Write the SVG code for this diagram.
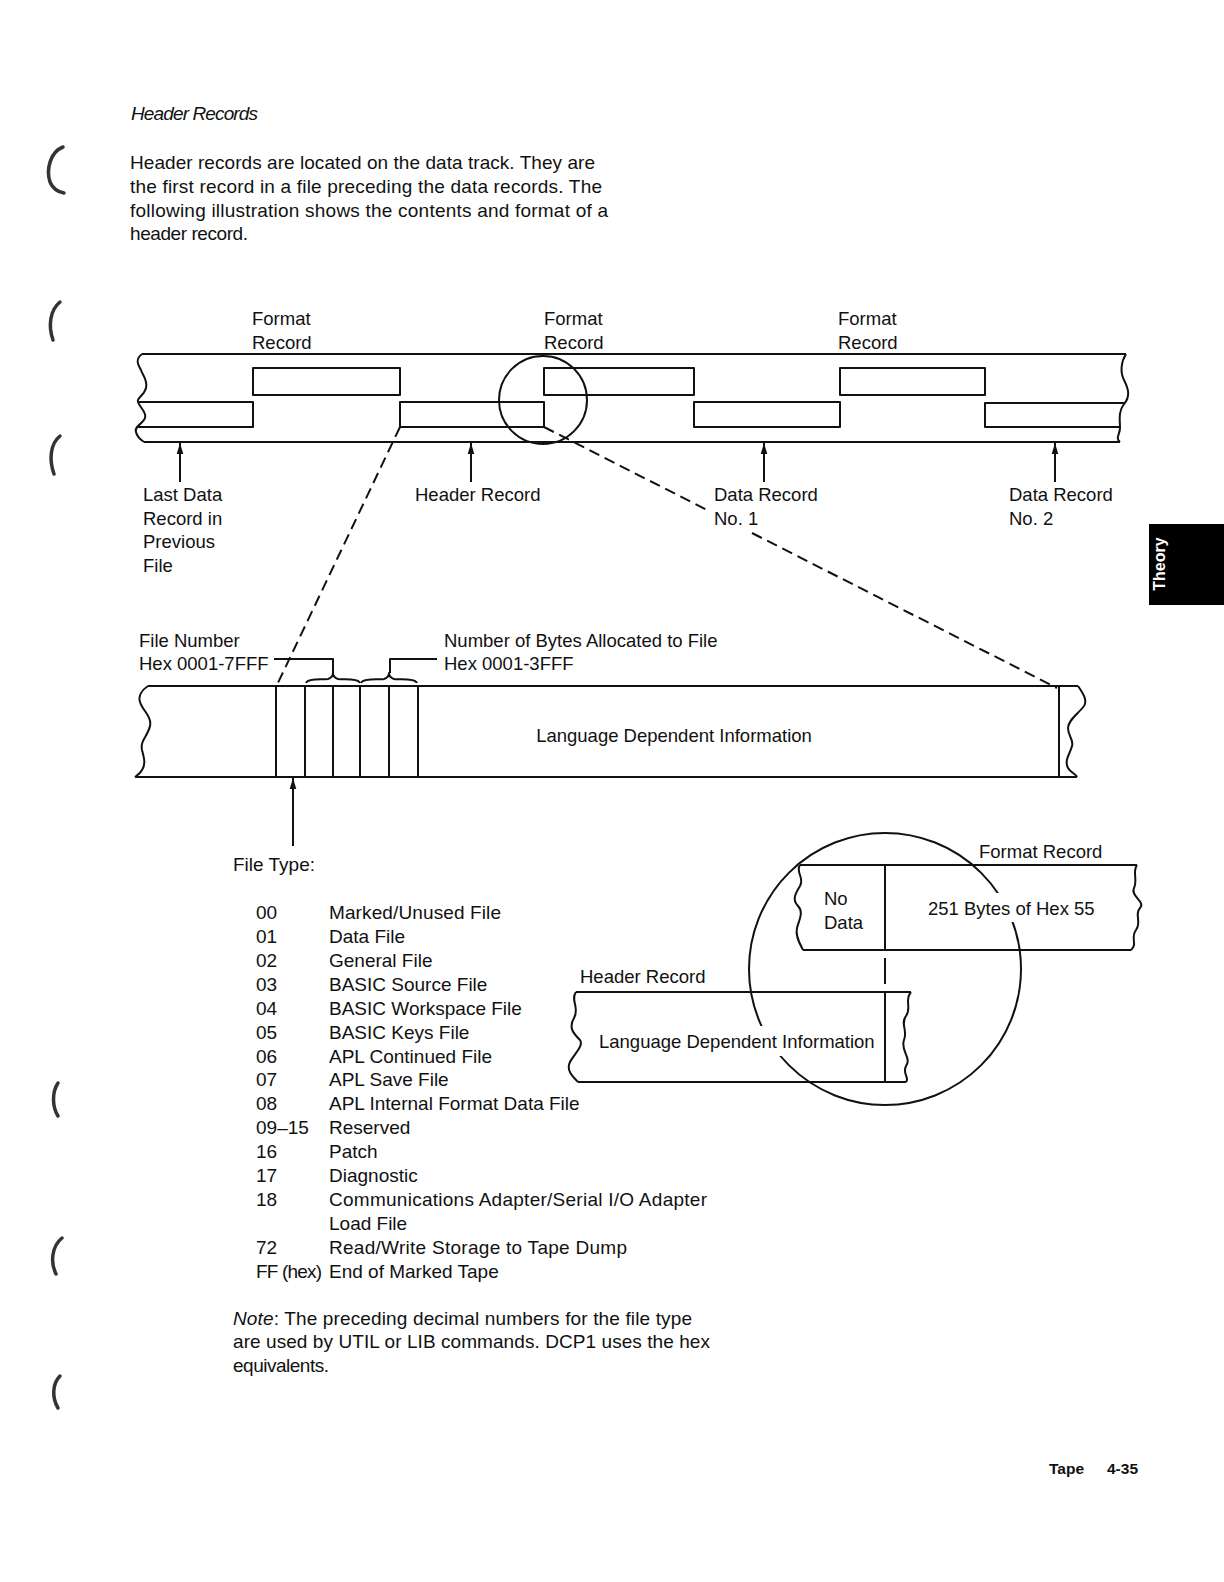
<svg xmlns="http://www.w3.org/2000/svg" width="1224" height="1582" viewBox="0 0 1224 1582">
<defs>
<marker id="ah" viewBox="0 0 10 10" refX="10" refY="5" markerWidth="11" markerHeight="11" markerUnits="userSpaceOnUse" orient="auto"><path d="M0,2 L10,5 L0,8 z" fill="#111"/></marker>
<style>
text { font-family: "Liberation Sans", Arial, Helvetica, sans-serif; fill: #111; }
.body { font-size: 19px; }
.lbl { font-size: 18.5px; }
.ln { fill: none; stroke: #111; stroke-width: 2; stroke-linejoin: round; }
.dash { fill: none; stroke: #111; stroke-width: 2; stroke-dasharray: 11 6; }
.arr { fill: none; stroke: #111; stroke-width: 2; marker-end: url(#ah); }
.halo { stroke: #fff; stroke-width: 6; paint-order: stroke; stroke-linejoin: round; }
.mask { fill: #fff; stroke: none; }
.scan { fill: none; stroke: #333; stroke-width: 3.5; stroke-linecap: round; }
</style>
</defs>
<rect x="0" y="0" width="1224" height="1582" fill="#fff"/>

<g id="scan-marks">
<path class="scan" d="M63,147 C50,152 46,170 50,182 C53,189 58,192 64,193"/>
<path class="scan" d="M60,302 C50,310 48,326 53,340"/>
<path class="scan" d="M60,436 C50,444 49,460 54,474"/>
<path class="scan" d="M58,1083 C52,1092 52,1106 58,1116"/>
<path class="scan" d="M62,1238 C52,1246 50,1262 56,1274"/>
<path class="scan" d="M60,1376 C52,1384 52,1398 58,1408"/>
</g>

<g id="intro-text">
<text class="body" x="131" y="120" font-style="italic" textLength="127" lengthAdjust="spacing">Header Records</text>
<text class="body" x="130" y="169" textLength="465" lengthAdjust="spacing">Header records are located on the data track.  They are</text>
<text class="body" x="130" y="193" textLength="472" lengthAdjust="spacing">the first record in a file preceding the data records.  The</text>
<text class="body" x="130" y="217" textLength="478" lengthAdjust="spacing">following illustration shows the contents and format of a</text>
<text class="body" x="130" y="240" textLength="118" lengthAdjust="spacing">header record.</text>
</g>

<g id="tape-track">
<path class="ln" d="M142,354 H1126"/>
<path class="ln" d="M144,442 H1120"/>
<path class="ln" d="M142,354 C134,360 139,366 141,370 C143,376 148,380 146,388 C144,396 136,398 138,402 C140,408 147,412 145,418 C143,424 134,426 136,432 C137,437 141,440 144,442"/>
<path class="ln" d="M1126,354 C1121,362 1120,372 1124,380 C1128,388 1131,396 1124,404 C1118,412 1120,420 1120,428 C1120,434 1115,438 1120,442"/>
<path class="ln" d="M139,402 H253 V427 H137"/>
<rect class="ln" x="253" y="368" width="147" height="27"/>
<rect class="ln" x="400" y="402" width="144" height="25"/>
<rect class="ln" x="544" y="368" width="150" height="27"/>
<rect class="ln" x="694" y="402" width="146" height="25"/>
<rect class="ln" x="840" y="368" width="145" height="27"/>
<path class="ln" d="M1125,403 H985 V427 H1120"/>
<circle class="ln" cx="543" cy="400" r="44"/>
</g>

<g id="label-format-1">
<text class="lbl" x="252" y="325">Format</text>
<text class="lbl" x="252" y="349">Record</text>
</g>
<g id="label-format-2">
<text class="lbl" x="544" y="325">Format</text>
<text class="lbl" x="544" y="349">Record</text>
</g>
<g id="label-format-3">
<text class="lbl" x="838" y="325">Format</text>
<text class="lbl" x="838" y="349">Record</text>
</g>
<g id="label-last-data">
<text class="lbl" x="143" y="501">Last Data</text>
<text class="lbl" x="143" y="525">Record in</text>
<text class="lbl" x="143" y="548">Previous</text>
<text class="lbl" x="143" y="572">File</text>
</g>
<g id="label-header">
<text class="lbl" x="415" y="501">Header Record</text>
</g>
<g id="label-data-1">
<text class="lbl" x="714" y="501">Data Record</text>
<text class="lbl" x="714" y="525">No. 1</text>
</g>
<g id="label-data-2">
<text class="lbl" x="1009" y="501">Data Record</text>
<text class="lbl" x="1009" y="525">No. 2</text>
</g>

<g id="header-record-layout">
<path class="ln" d="M148,686 H1078"/>
<path class="ln" d="M135,777 H1077"/>
<path class="ln" d="M148,686 C142,690 138,696 140,702 C142,710 152,716 150,726 C148,736 140,740 142,750 C144,758 146,764 142,770 C140,774 136,776 135,777"/>
<path class="ln" d="M1078,686 C1082,692 1088,700 1084,706 C1078,714 1068,720 1068,728 C1068,736 1074,740 1072,746 C1070,754 1064,760 1068,768 C1070,772 1076,774 1077,777"/>
<path class="ln" d="M276,686 V777 M305,686 V777 M333,686 V777 M360,686 V777 M389,686 V777 M418,686 V777 M1059,686 V777"/>
<text class="lbl" x="674" y="742" text-anchor="middle">Language Dependent Information</text>
</g>

<g id="field-labels">
<text class="lbl" x="139" y="647">File Number</text>
<text class="lbl" x="139" y="670">Hex 0001-7FFF</text>
<path class="ln" d="M274,659 H333 V673"/>
<path class="ln" d="M306,683 C308,678 322,680 328,679 C331,678 333,676 333,673 C333,676 335,678 338,679 C344,680 358,678 360,683"/>
<path class="ln" d="M361,683 C363,678 378,680 384,679 C387,678 389,676 389,673 C389,676 391,678 394,679 C400,680 415,678 417,683"/>
<path class="ln" d="M390,673 V659 H437"/>
<text class="lbl" x="444" y="647">Number of Bytes Allocated to File</text>
<text class="lbl" x="444" y="670">Hex 0001-3FFF</text>
</g>

<g id="connectors">
<path class="dash" d="M400,427 L276,687"/>
<path class="dash" d="M544,427 L709,511"/>
<path class="dash" d="M752,533 L1057,688"/>
<line class="arr" x1="180" y1="482" x2="180" y2="443"/>
<line class="arr" x1="471" y1="482" x2="471" y2="443"/>
<line class="arr" x1="764" y1="482" x2="764" y2="443"/>
<line class="arr" x1="1055" y1="482" x2="1055" y2="443"/>
<line class="arr" x1="293" y1="846" x2="293" y2="778"/>
</g>

<g id="file-type-list">
<text class="body" x="233" y="871">File Type:</text>
<text class="body" x="256" y="919">00</text><text class="body" x="329" y="919" textLength="172" lengthAdjust="spacing">Marked/Unused File</text>
<text class="body" x="256" y="943">01</text><text class="body" x="329" y="943">Data File</text>
<text class="body" x="256" y="967">02</text><text class="body" x="329" y="967">General File</text>
<text class="body" x="256" y="991">03</text><text class="body" x="329" y="991">BASIC Source File</text>
<text class="body" x="256" y="1015">04</text><text class="body" x="329" y="1015">BASIC Workspace File</text>
<text class="body" x="256" y="1039">05</text><text class="body" x="329" y="1039">BASIC Keys File</text>
<text class="body" x="256" y="1063">06</text><text class="body" x="329" y="1063">APL Continued File</text>
<text class="body" x="256" y="1086">07</text><text class="body" x="329" y="1086">APL Save File</text>
<text class="body" x="256" y="1110">08</text><text class="body" x="329" y="1110">APL Internal Format Data File</text>
<text class="body" x="256" y="1134">09–15</text><text class="body" x="329" y="1134">Reserved</text>
<text class="body" x="256" y="1158">16</text><text class="body" x="329" y="1158">Patch</text>
<text class="body" x="256" y="1182">17</text><text class="body" x="329" y="1182">Diagnostic</text>
<text class="body" x="256" y="1206">18</text><text class="body" x="329" y="1206" textLength="378" lengthAdjust="spacing">Communications Adapter/Serial I/O Adapter</text>
<text class="body" x="329" y="1230">Load File</text>
<text class="body" x="256" y="1254">72</text><text class="body" x="329" y="1254" textLength="298" lengthAdjust="spacing">Read/Write Storage to Tape Dump</text>
<text class="body" x="256" y="1278" textLength="66" lengthAdjust="spacing">FF (hex)</text><text class="body" x="329" y="1278">End of Marked Tape</text>
</g>

<g id="note-text">
<text class="body" x="233" y="1325" textLength="459" lengthAdjust="spacing"><tspan font-style="italic">Note</tspan>: The preceding decimal numbers for the file type</text>
<text class="body" x="233" y="1348" textLength="477" lengthAdjust="spacing">are used by UTIL or LIB commands.  DCP1 uses the hex</text>
<text class="body" x="233" y="1372" textLength="96" lengthAdjust="spacing">equivalents.</text>
</g>

<g id="magnified-detail">
<circle class="ln" cx="885" cy="969" r="136"/>
<rect class="mask" x="924" y="893" width="174" height="29"/>
<rect class="mask" x="596" y="1026" width="278" height="30"/>
<g id="format-record-strip">
<path class="ln" d="M800,865 H1137"/>
<path class="ln" d="M803,950 H1131"/>
<path class="ln" d="M800,865 C795,872 805,878 800,886 C795,894 792,900 798,906 C804,912 799,920 797,928 C795,936 800,944 803,950"/>
<path class="ln" d="M1137,865 C1132,872 1138,880 1134,888 C1130,896 1146,902 1140,908 C1134,914 1142,922 1136,930 C1130,938 1138,944 1131,950"/>
<path class="ln" d="M885,865 V950"/>
<text class="lbl halo" x="979" y="858">Format Record</text>
<text class="lbl halo" x="824" y="905">No</text>
<text class="lbl halo" x="824" y="929">Data</text>
<text class="lbl" x="928" y="915">251 Bytes of Hex 55</text>
</g>
<path class="ln" d="M885,958 V984"/>
<g id="header-record-strip">
<path class="ln" d="M576,992 H911"/>
<path class="ln" d="M578,1082 H906"/>
<path class="ln" d="M576,992 C570,1000 580,1008 574,1018 C568,1028 574,1034 580,1040 C584,1046 574,1054 570,1062 C566,1070 572,1076 578,1082"/>
<path class="ln" d="M911,992 C904,1000 912,1008 906,1016 C900,1024 908,1030 904,1040 C900,1050 912,1058 906,1066 C902,1074 910,1078 906,1082"/>
<path class="ln" d="M885,992 V1082"/>
<text class="lbl halo" x="580" y="983">Header Record</text>
<text class="lbl" x="599" y="1048">Language Dependent Information</text>
</g>
</g>

<g id="theory-tab">
<rect x="1149" y="524" width="75" height="81" fill="#000"/>
<text x="0" y="0" transform="translate(1165,564) rotate(-90)" text-anchor="middle" font-size="16" font-weight="bold" style="fill:#fff">Theory</text>
</g>

<g id="page-number">
<text x="1049" y="1474" font-size="15.5" font-weight="bold">Tape</text>
<text x="1107" y="1474" font-size="15.5" font-weight="bold">4-35</text>
</g>
</svg>
